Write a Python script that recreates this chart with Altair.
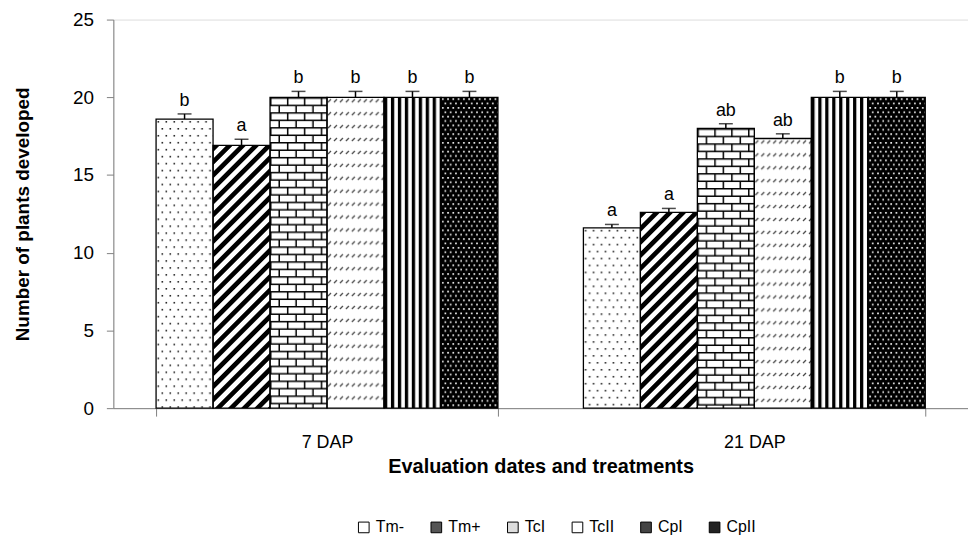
import altair as alt
import pandas as pd
from urllib.parse import quote

# ---------------- data ----------------
dates = ["7 DAP", "21 DAP"]
treatments = ["Tm-", "Tm+", "TcI", "TcII", "CpI", "CpII"]
means_7dap = [18.6, 16.9, 20.0, 20.0, 20.0, 20.0]
means_21dap = [11.6, 12.6, 18.0, 17.35, 20.0, 20.0]
se_7dap = [0.33, 0.4, 0.38, 0.38, 0.38, 0.38]
se_21dap = [0.22, 0.25, 0.3, 0.3, 0.38, 0.38]
letters_7dap = ["b", "a", "b", "b", "b", "b"]
letters_21dap = ["a", "a", "ab", "ab", "b", "b"]
y_ticks = [0, 5, 10, 15, 20, 25]

# ---------------- layout / style ----------------
FONT = "Liberation Sans"
W, H = 860, 391
Y_MAX = 25
PAD_INNER, PAD_OUTER = 0.2, 0.1
step = W / (len(dates) - PAD_INNER + 2 * PAD_OUTER)
bar_w = step * (1 - PAD_INNER) / len(treatments)
px_per_unit = H / Y_MAX

legend_grays = ["#ffffff", "#555555", "#dddddd", "#ffffff", "#444444", "#222222"]

PATTERNS = {
    "Tm-": ('<pattern id="p" width="8" height="14" patternUnits="userSpaceOnUse">'
            '<rect width="8" height="14" fill="white"/>'
            '<rect x="1.5" y="2" width="1.6" height="1.6" fill="#222"/>'
            '<rect x="5.5" y="9" width="1.6" height="1.6" fill="#222"/></pattern>'),
    "Tm+": ('<pattern id="p" width="9.4" height="9.4" patternUnits="userSpaceOnUse" '
            'patternTransform="rotate(45)">'
            '<rect width="9.4" height="9.4" fill="white"/>'
            '<rect width="4.7" height="9.4" fill="black"/></pattern>'),
    "TcI": ('<pattern id="p" width="17" height="15" patternUnits="userSpaceOnUse">'
            '<rect width="17" height="15" fill="white"/>'
            '<path d="M0 0.75H17M0 8.25H17M0.75 0V7.5M9.25 7.5V15" stroke="black" '
            'stroke-width="1.5" fill="none"/></pattern>'),
    "TcII": ('<pattern id="p" width="6" height="13" patternUnits="userSpaceOnUse">'
             '<rect width="6" height="13" fill="white"/>'
             '<path d="M1 5L4 2" stroke="#444" stroke-width="1.2" fill="none"/></pattern>'),
    "CpI": ('<pattern id="p" width="7" height="7" patternUnits="userSpaceOnUse">'
            '<rect width="7" height="7" fill="white"/>'
            '<rect width="3.3" height="7" fill="black"/></pattern>'),
    "CpII": ('<pattern id="p" width="5.3" height="8.8" patternUnits="userSpaceOnUse">'
             '<rect width="5.3" height="8.8" fill="black"/>'
             '<rect x="1" y="1" width="1.7" height="1.7" fill="#f0f0f0"/>'
             '<rect x="3.65" y="5.4" width="1.7" height="1.7" fill="#f0f0f0"/></pattern>'),
}


def pattern_url(treatment, value):
    w = bar_w
    h = max(value * px_per_unit, 1)
    svg = ('<svg xmlns="http://www.w3.org/2000/svg" width="%.2f" height="%.2f" '
           'viewBox="0 0 %.2f %.2f"><defs>%s</defs>'
           '<rect width="100%%" height="100%%" fill="url(#p)"/></svg>'
           % (w, h, w, h, PATTERNS[treatment]))
    return "data:image/svg+xml;charset=utf-8," + quote(svg)


rows = []
for d, means, ses, letters in [
    (dates[0], means_7dap, se_7dap, letters_7dap),
    (dates[1], means_21dap, se_21dap, letters_21dap),
]:
    for t, m, s, l in zip(treatments, means, ses, letters):
        rows.append({"date": d, "treatment": t, "mean": m, "top": m + s,
                     "letter": l, "url": pattern_url(t, m)})
df = pd.DataFrame(rows)

x_enc = alt.X(
    "date:N", sort=dates,
    scale=alt.Scale(domain=dates, paddingInner=PAD_INNER, paddingOuter=PAD_OUTER),
    title="Evaluation dates and treatments",
    axis=alt.Axis(labelAngle=0, tickBand="extent", tickSize=8, labelPadding=18,
                  labelFontSize=18, labelFont=FONT, labelColor="black",
                  titleFontSize=20, titleFont=FONT, titleFontWeight="bold",
                  titleColor="black", titlePadding=5,
                  domainColor="#808080", tickColor="#808080", grid=False),
)
xo_enc = alt.XOffset("treatment:N", sort=treatments,
                     scale=alt.Scale(domain=treatments, paddingInner=0, paddingOuter=0))
y_scale = alt.Scale(domain=[0, Y_MAX], nice=False)
y_axis = alt.Axis(values=y_ticks, grid=False, tickSize=7, labelPadding=13,
                  labelFontSize=19, labelFont=FONT, labelColor="black",
                  title="Number of plants developed", titleFontSize=19,
                  titleFont=FONT, titleFontWeight="bold", titleColor="black",
                  titlePadding=40, domainColor="#808080", tickColor="#808080")

base = alt.Chart(df).encode(x=x_enc, xOffset=xo_enc)

bars = base.mark_bar().encode(
    y=alt.Y("mean:Q", scale=y_scale, axis=y_axis),
    fill=alt.Fill(
        "treatment:N", sort=treatments,
        scale=alt.Scale(domain=treatments, range=legend_grays),
        legend=alt.Legend(title=None, orient="none", legendX=244, legendY=503,
                          direction="horizontal", symbolType="square",
                          symbolSize=115, symbolStrokeColor="black",
                          symbolStrokeWidth=1, labelFontSize=16, labelFont=FONT,
                          labelColor="black", labelOffset=4, columnPadding=24),
    ),
)

images = base.mark_image(aspect=False).encode(
    y=alt.Y("mean:Q", scale=y_scale),
    y2=alt.datum(0),
    url="url:N",
)

outline = base.mark_bar(fill="transparent", stroke="black", strokeWidth=1.3).encode(
    y=alt.Y("mean:Q", scale=y_scale),
)

err_rule = base.mark_rule(color="black", strokeWidth=1.5).encode(
    y=alt.Y("mean:Q", scale=y_scale),
    y2="top:Q",
)

err_cap = base.mark_tick(orient="horizontal", size=14, thickness=1.5, color="black").encode(
    y=alt.Y("top:Q", scale=y_scale),
)

letters = base.mark_text(baseline="alphabetic", dy=-8, fontSize=18, font=FONT,
                         color="black").encode(
    y=alt.Y("top:Q", scale=y_scale),
    text="letter:N",
)

chart = alt.layer(bars, images, outline, err_rule, err_cap, letters).properties(
    width=W, height=H,
    padding={"left": 106, "top": 10, "right": 0, "bottom": 128},
    autosize=alt.AutoSizeParams(type="none"),
).configure_view(stroke=None).configure(background="white")

chart.save("out.html", embed_options={"renderer": "svg", "actions": False})
